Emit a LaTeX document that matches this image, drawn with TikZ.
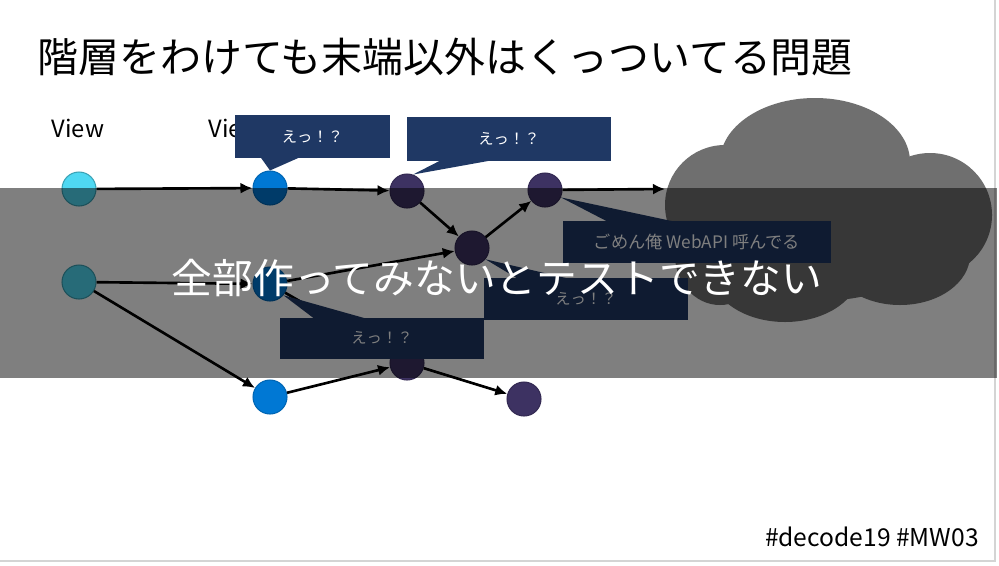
\documentclass[tikz,border=0pt]{standalone}
\usepackage{fontspec}
\setmainfont{Noto Sans CJK JP}
\usetikzlibrary{arrows.meta,calc}
\definecolor{viewcyan}{HTML}{4FD8F2}
\definecolor{modblue}{HTML}{0078D4}
\definecolor{logicpurple}{HTML}{3D3262}
\definecolor{calloutnavy}{HTML}{1F3864}
\definecolor{cloudgray}{HTML}{6F6F6F}
\definecolor{framegray}{HTML}{D4D4D4}

\begin{document}
\begin{tikzpicture}[x=0.02cm, y=-0.02cm,
    dot/.style={circle, minimum size=0.68cm, inner sep=0pt, line width=0.6pt},
    link/.style={-{Latex[length=0.24cm,width=0.22cm]}, line width=1.5pt, black},
    callbox/.style={fill=calloutnavy, text=white, inner sep=0pt, font=\fontsize{8.7}{10}\selectfont},
    label/.style={inner sep=0pt, font=\fontsize{13.5}{16}\selectfont}]
    \useasboundingbox (0,0) rectangle (999,565);
    \fill[white] (0,0) rectangle (999,565);
    \draw[framegray, line width=0.8pt] (995,0) -- (995,561) -- (0,561);

    % title
    \node[anchor=west, inner sep=0pt, font=\fontsize{23.3}{28}\selectfont] (title) at (37,57) {階層をわけても末端以外はくっついてる問題};

    % layer labels
    \node[label] (view1) at (78,128) {View};
    \node[label] (view2) at (235,128) {View};

    % modules
    \node[dot, fill=viewcyan, draw=viewcyan!75!black] (A) at (79,189) {};
    \node[dot, fill=viewcyan, draw=viewcyan!75!black] (F) at (79,282) {};
    \node[dot, fill=modblue, draw=modblue!85!black] (B) at (270,188) {};
    \node[dot, fill=modblue, draw=modblue!85!black] (G) at (270,284) {};
    \node[dot, fill=modblue, draw=modblue!85!black] (I) at (270,397) {};
    \node[dot, fill=logicpurple, draw=logicpurple!85!black] (C) at (407,191) {};
    \node[dot, fill=logicpurple, draw=logicpurple!85!black] (D) at (472,248) {};
    \node[dot, fill=logicpurple, draw=logicpurple!85!black] (E) at (545,190) {};
    \node[dot, fill=logicpurple, draw=logicpurple!85!black] (H) at (407,363) {};
    \node[dot, fill=logicpurple, draw=logicpurple!85!black] (J) at (524,399) {};
    \coordinate (cloudin) at (665,189);

    % dependencies
    \draw[link] (A) -- (B);
    \draw[link] (B) -- (C);
    \draw[link] (C) -- (D);
    \draw[link] (D) -- (E);
    \draw[link] (E) -- (cloudin);
    \draw[link] (F) -- (G);
    \draw[link] (F) -- (I);
    \draw[link] (G) -- (D);
    \draw[link] (G) -- (H);
    \draw[link] (I) -- (H);
    \draw[link] (H) -- (J);

    % external service
    \begin{scope}[cloudgray]
      \fill (830,220) ellipse [x radius=110, y radius=80];
      \fill (815,162) ellipse [x radius=95, y radius=64];
      \fill (725,205) ellipse [x radius=60, y radius=60];
      \fill (930,215) ellipse [x radius=62, y radius=62];
      \fill (900,255) ellipse [x radius=70, y radius=50];
      \fill (785,270) ellipse [x radius=75, y radius=52];
      \fill (720,255) ellipse [x radius=45, y radius=50];
    \end{scope}

    % callouts
    \node[callbox, minimum width=3.1cm, minimum height=0.86cm] (box1) at (312.5,136.5) {えっ！？};
    \fill[calloutnavy] ($(box1.south west)+(26,-1)$) -- ($(box1.south west)+(65,-1)$) -- (B.north) -- cycle;
    \node[callbox, minimum width=4.08cm, minimum height=0.88cm] (box2) at (509,139) {えっ！？};
    \fill[calloutnavy] ($(box2.south west)+(34,-1)$) -- ($(box2.south west)+(85,-1)$) -- (C.70) -- cycle;
    \node[callbox, minimum width=5.36cm, minimum height=0.84cm, font=\fontsize{9.8}{11}\selectfont] (box3) at (697,242) {ごめん俺 WebAPI 呼んでる};
    \fill[calloutnavy] ($(box3.north west)+(45,1)$) -- ($(box3.north west)+(112,1)$) -- (E.-25) -- cycle;
    \node[callbox, minimum width=4.08cm, minimum height=0.84cm] (box4) at (586,299) {えっ！？};
    \fill[calloutnavy] ($(box4.north west)+(34,1)$) -- ($(box4.north west)+(85,1)$) -- (D.-40) -- cycle;
    \node[callbox, minimum width=4.08cm, minimum height=0.82cm] (box5) at (382,338) {えっ！？};
    \fill[calloutnavy] ($(box5.north west)+(34,1)$) -- ($(box5.north west)+(85,1)$) -- (G.-40) -- cycle;

    % overlay band
    \fill[black, opacity=0.5] (0,188) rectangle (997,378);
    \node[text=white, inner sep=0pt, font=\fontsize{23.2}{28}\selectfont] (punch) at (497,278) {全部作ってみないとテストできない};

    % footer
    \node[label, anchor=east, font=\fontsize{14}{16}\selectfont] (tag) at (979,537) {\#decode19 \#MW03};
\end{tikzpicture}
\end{document}
